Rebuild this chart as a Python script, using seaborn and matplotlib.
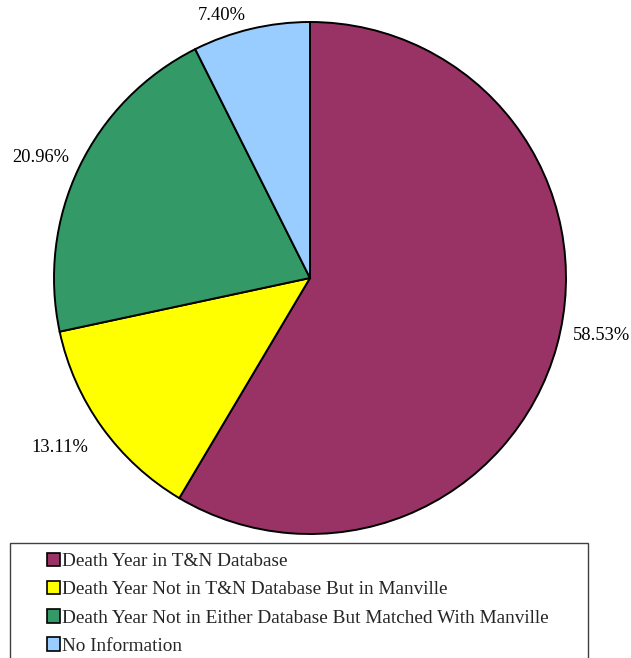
import matplotlib
matplotlib.use("Agg")
import matplotlib.pyplot as plt
from matplotlib.patches import Patch, Rectangle
import seaborn as sns

categories = [
    "Death Year in T&N Database",
    "Death Year Not in T&N Database But in Manville",
    "Death Year Not in Either Database But Matched With Manville",
    "No Information",
]
values = [58.53, 13.11, 20.96, 7.40]
labels = ["58.53%", "13.11%", "20.96%", "7.40%"]
colors = ["#993366", "#FFFF00", "#339966", "#99CCFF"]

sns.set_theme(style="white")
plt.rcParams["font.family"] = ["Liberation Serif", "DejaVu Serif"]

W, H = 631, 658
fig = plt.figure(figsize=(W / 100, H / 100), dpi=100)
fig.patch.set_facecolor("white")

cx, cy, r = 310, 278, 256
ax = fig.add_axes([(cx - r) / W, (H - cy - r) / H, 2 * r / W, 2 * r / H])
wedges, texts = ax.pie(
    values, colors=colors, startangle=90, counterclock=False,
    wedgeprops=dict(edgecolor="black", linewidth=1.4), radius=1.0,
)
ax.set_xlim(-1, 1)
ax.set_ylim(-1, 1)
ax.set_aspect("equal")
ax.axis("off")

label_pos = [(1.137, -0.223), (-0.977, -0.664), (-1.051, 0.469), (-0.344, 1.027)]
for lab, (x, y) in zip(labels, label_pos):
    ax.text(x, y, lab, ha="center", va="center", fontsize=13.3, color="black", clip_on=False)

# legend frame
fig.patches.append(Rectangle((10 / W, -0.05), 578 / W, (H - 543) / H + 0.05,
                             transform=fig.transFigure, facecolor="white",
                             edgecolor="#404040", linewidth=1.0))
handles = [Patch(facecolor=c, edgecolor="black", linewidth=1.2) for c in colors]
fig.legend(handles, categories, loc="upper left",
           bbox_to_anchor=(33 / W, (H - 539) / H), frameon=False,
           fontsize=13.9, handlelength=0.7, handleheight=0.7,
           handletextpad=0.12, labelspacing=0.56, borderpad=0.2)

fig.savefig("out.png", dpi=100)
